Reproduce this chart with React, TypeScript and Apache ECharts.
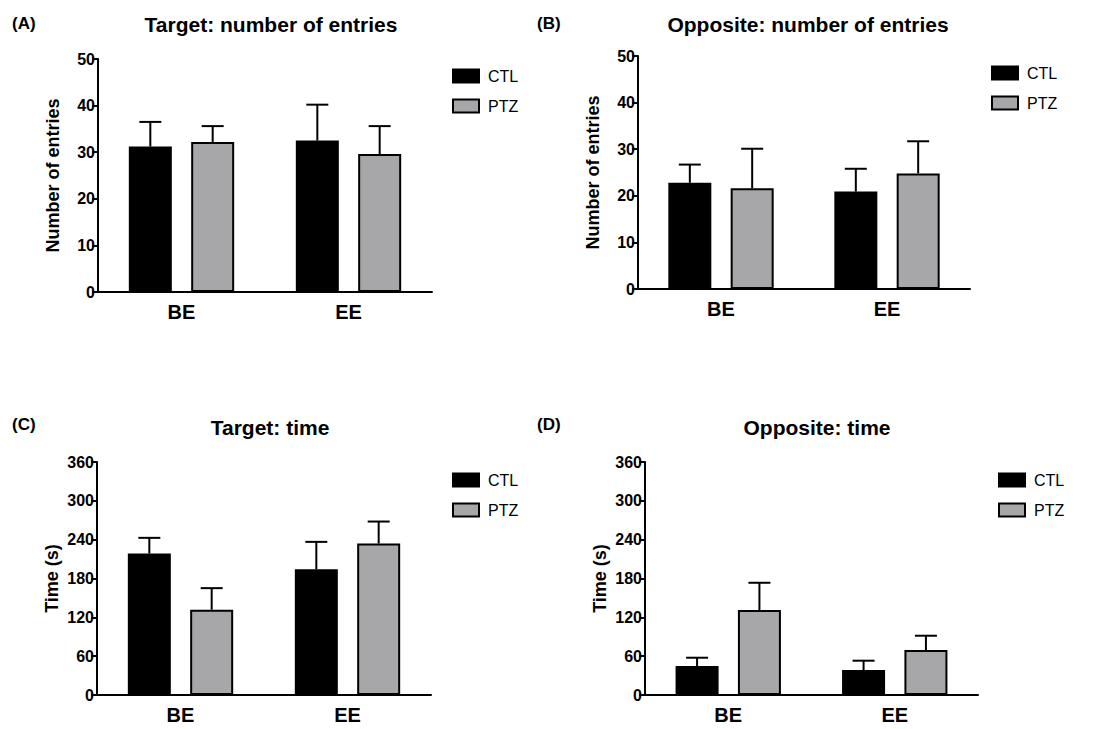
import React, { useEffect, useRef } from "react";
import * as echarts from "echarts";

const categories = ["BE", "EE"];
const seriesNames = ["CTL", "PTZ"];

// Panel A: Target: number of entries
const aCtl = [31.2, 32.5];
const aCtlErr = [36.5, 40.2];
const aPtz = [32.2, 29.6];
const aPtzErr = [35.6, 35.6];

// Panel B: Opposite: number of entries
const bCtl = [22.8, 20.9];
const bCtlErr = [26.7, 25.8];
const bPtz = [21.6, 24.8];
const bPtzErr = [30.1, 31.7];

// Panel C: Target: time
const cCtl = [218.6, 194.4];
const cCtlErr = [242.8, 236.6];
const cPtz = [131.7, 234.0];
const cPtzErr = [165.1, 268.0];

// Panel D: Opposite: time
const dCtl = [44.7, 38.6];
const dCtlErr = [57.6, 53.0];
const dPtz = [131.2, 69.4];
const dPtzErr = [173.4, 91.6];

const panelTitles = [
  "Target: number of entries",
  "Opposite: number of entries",
  "Target: time",
  "Opposite: time",
];
const panelLetters = ["(A)", "(B)", "(C)", "(D)"];
const yNames = ["Number of entries", "Number of entries", "Time (s)", "Time (s)"];
const yMax = [50, 50, 360, 360];
const yInterval = [10, 10, 60, 60];

const FONT = "Liberation Sans, Arial, sans-serif";
const GREY = "#A7A7AA";
const BAR_W = 43;
const BAR_GAP = 0.45;

export default function App() {
  const ref = useRef<HTMLDivElement>(null);
  useEffect(() => {
    document.body.style.margin = "0";
    if (!ref.current) return;
    const chart = echarts.init(ref.current, undefined, { renderer: "svg" });

    const grids = [
      { left: 98, top: 59, width: 334, height: 233 },
      { left: 638, top: 56, width: 332, height: 233 },
      { left: 97, top: 462, width: 334, height: 233 },
      { left: 645, top: 462, width: 333, height: 233 },
    ];
    const titlePos = [
      { x: 266, y: 9 },
      { x: 803, y: 9 },
      { x: 265, y: 412 },
      { x: 812, y: 412 },
    ];
    const letterPos = [
      { x: 7, y: 10 },
      { x: 532, y: 10 },
      { x: 7, y: 411 },
      { x: 532, y: 411 },
    ];
    const legendPos = [
      { x: 452, y: 68 },
      { x: 991, y: 65 },
      { x: 452, y: 472 },
      { x: 998, y: 472 },
    ];
    const data = [
      [aCtl, aCtlErr, aPtz, aPtzErr],
      [bCtl, bCtlErr, bPtz, bPtzErr],
      [cCtl, cCtlErr, cPtz, cPtzErr],
      [dCtl, dCtlErr, dPtz, dPtzErr],
    ];

    const offset = (BAR_W + BAR_W * BAR_GAP) / 2;

    const series: any[] = [];
    data.forEach((d, i) => {
      const [ctl, ctlE, ptz, ptzE] = d;
      series.push({
        type: "bar",
        name: seriesNames[0],
        xAxisIndex: i,
        yAxisIndex: i,
        data: ctl,
        barWidth: BAR_W,
        barGap: BAR_GAP * 100 + "%",
        itemStyle: { color: "#000", borderColor: "#000", borderWidth: 2 },
        z: 2,
      });
      series.push({
        type: "bar",
        name: seriesNames[1],
        xAxisIndex: i,
        yAxisIndex: i,
        data: ptz,
        barWidth: BAR_W,
        barGap: BAR_GAP * 100 + "%",
        itemStyle: { color: GREY, borderColor: "#000", borderWidth: 2 },
        z: 2,
      });
      [
        { vals: ctl, errs: ctlE, dir: -1 },
        { vals: ptz, errs: ptzE, dir: 1 },
      ].forEach((s) => {
        series.push({
          type: "custom",
          xAxisIndex: i,
          yAxisIndex: i,
          z: 3,
          data: s.vals.map((v, k) => [k, v, s.errs[k]]),
          renderItem: (params: any, api: any) => {
            const base = api.coord([api.value(0), api.value(1)]);
            const top = api.coord([api.value(0), api.value(2)]);
            const x = base[0] + s.dir * offset;
            const st = { stroke: "#000", lineWidth: 2 };
            return {
              type: "group",
              children: [
                { type: "line", shape: { x1: x, y1: base[1], x2: x, y2: top[1] }, style: st },
                { type: "line", shape: { x1: x - 11, y1: top[1], x2: x + 11, y2: top[1] }, style: st },
              ],
            };
          },
        });
      });
    });

    const option: any = {
      animation: false,
      backgroundColor: "#fff",
      title: [
        ...panelTitles.map((t, i) => ({
          text: t,
          left: titlePos[i].x,
          top: titlePos[i].y,
          textAlign: "center",
          textStyle: { fontFamily: FONT, fontSize: 21, fontWeight: "bold", color: "#000" },
        })),
        ...panelLetters.map((t, i) => ({
          text: t,
          left: letterPos[i].x,
          top: letterPos[i].y,
          textStyle: { fontFamily: FONT, fontSize: 17, fontWeight: "bold", color: "#000" },
        })),
      ],
      legend: legendPos.map((p) => ({
        data: seriesNames,
        orient: "vertical",
        left: p.x - 5,
        top: p.y - 5,
        itemWidth: 26,
        itemHeight: 13,
        itemGap: 14,
        icon: "rect",
        selectedMode: false,
        textStyle: { fontFamily: FONT, fontSize: 16, color: "#000", padding: [0, 0, 0, 4] },
      })),
      grid: grids,
      xAxis: grids.map((_, i) => ({
        type: "category",
        gridIndex: i,
        data: categories,
        axisLine: { lineStyle: { color: "#000", width: 2 } },
        axisTick: { show: false },
        axisLabel: {
          fontFamily: FONT,
          fontSize: 20,
          fontWeight: "bold",
          color: "#000",
          margin: 10,
        },
      })),
      yAxis: grids.map((_, i) => ({
        type: "value",
        gridIndex: i,
        min: 0,
        max: yMax[i],
        interval: yInterval[i],
        name: yNames[i],
        nameLocation: "middle",
        nameGap: 36,
        nameTextStyle: { fontFamily: FONT, fontSize: 18, fontWeight: "bold", color: "#000" },
        axisLine: { show: true, lineStyle: { color: "#000", width: 2 } },
        axisTick: { show: true, length: 6, lineStyle: { color: "#000", width: 2 } },
        splitLine: { show: false },
        axisLabel: {
          fontFamily: FONT,
          fontSize: 16,
          fontWeight: "bold",
          color: "#000",
          margin: 3,
        },
      })),
      series,
    };
    chart.setOption(option);
    return () => chart.dispose();
  }, []);
  return <div ref={ref} style={{ width: 1102, height: 729 }} />;
}
